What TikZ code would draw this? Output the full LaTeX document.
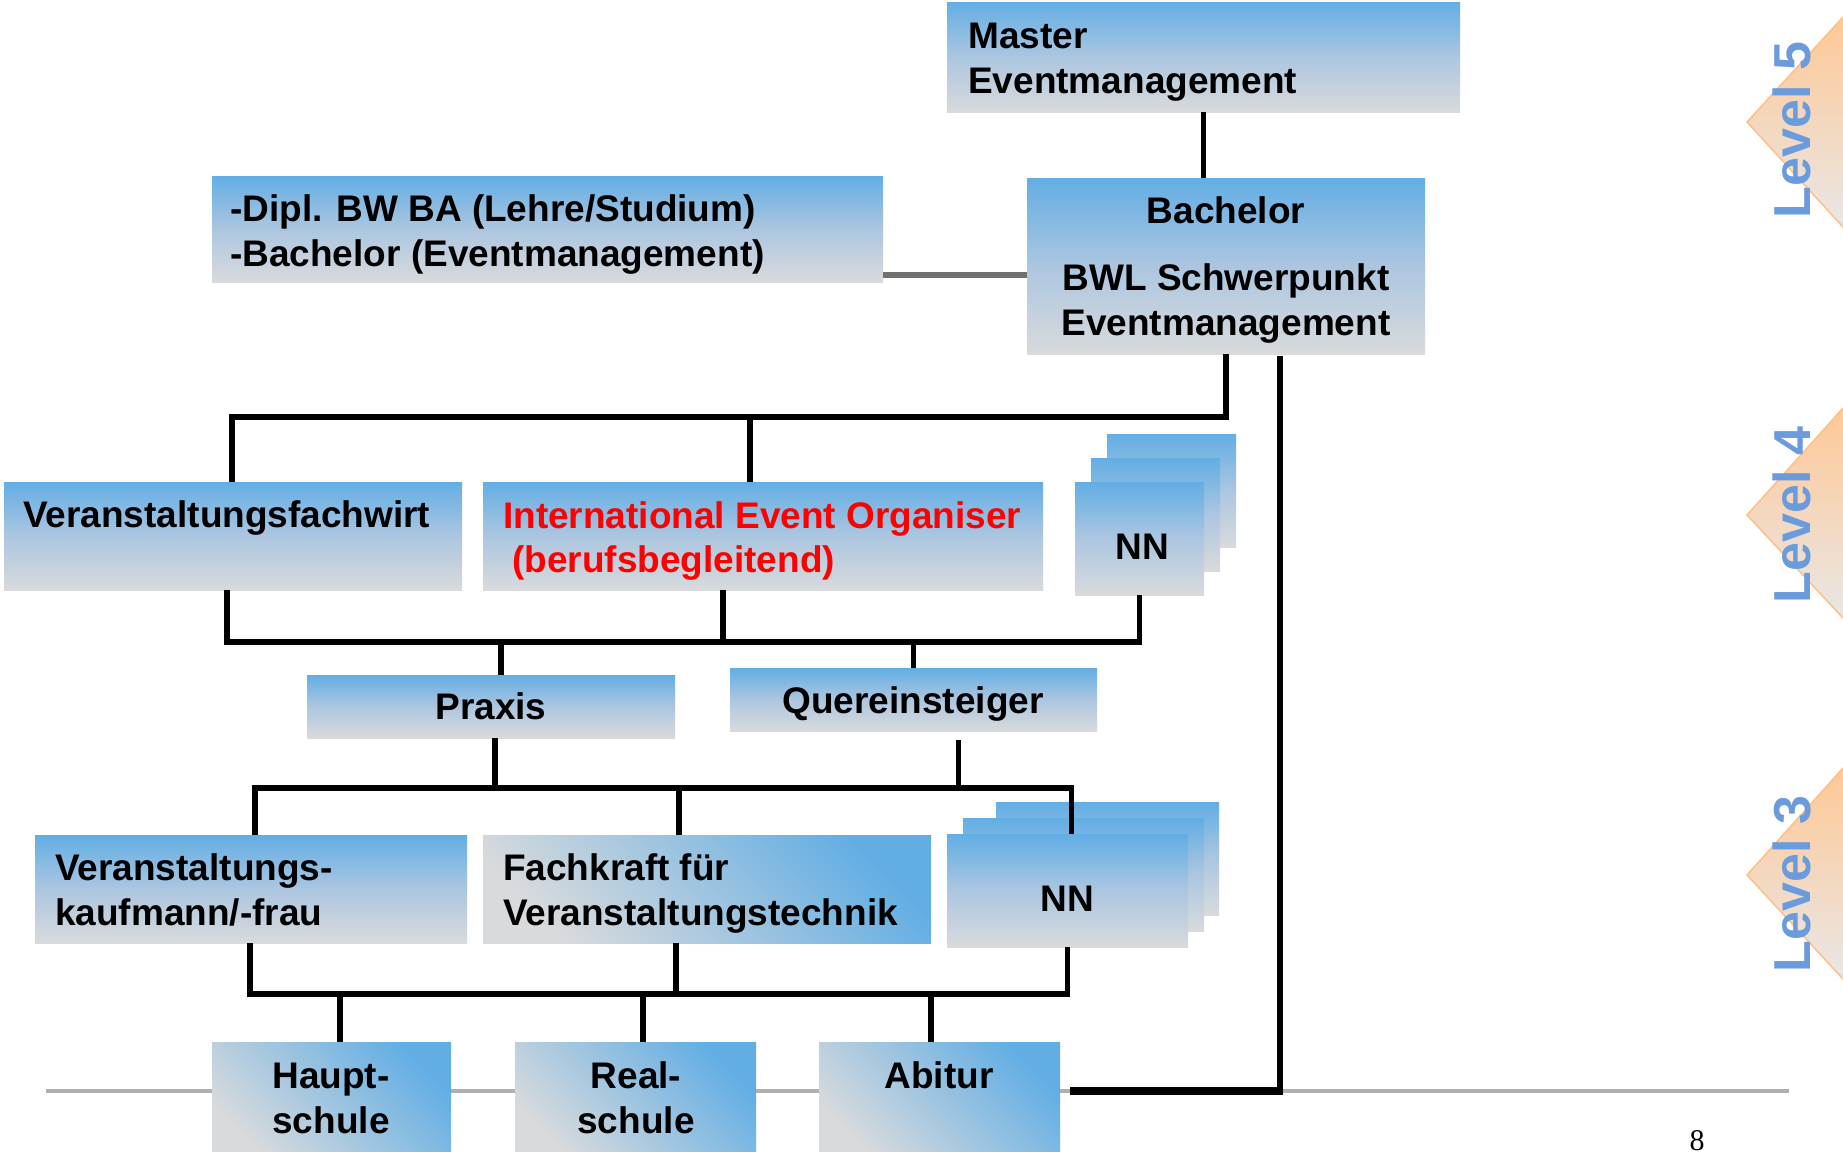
\documentclass[tikz,border=0pt]{standalone}
\usepackage{fontspec}
\setmainfont{Liberation Sans}
\newfontfamily\pagefont{Liberation Serif}
\definecolor{boxblue}{RGB}{98,174,228}
\definecolor{boxgray}{RGB}{217,218,220}
\definecolor{boxmid}{RGB}{172,198,224}
\definecolor{lvlblue}{RGB}{106,155,220}
\definecolor{lvlorange}{RGB}{255,200,150}
\definecolor{lvlgray}{RGB}{232,231,230}
\definecolor{lvledge}{RGB}{255,192,135}
\definecolor{conngray}{RGB}{112,112,112}
\definecolor{basegray}{RGB}{176,176,176}
\definecolor{ieored}{RGB}{255,0,0}
\begin{document}
\begin{tikzpicture}[x=1pt,y=-1pt,
  vbox/.style={anchor=north west, inner sep=0pt, outer sep=0pt, draw=none,
    top color=boxblue, bottom color=boxgray, middle color=boxmid},
  dbox/.style={anchor=north west, inner sep=0pt, outer sep=0pt, draw=none,
    top color=boxblue, bottom color=boxgray, shading angle=-45},
  txtl/.style={font=\fontsize{37}{45}\bfseries\selectfont, inner sep=0pt, anchor=base west},
  txtc/.style={font=\fontsize{37}{45}\bfseries\selectfont, inner sep=0pt, anchor=base},
  conn/.style={line width=5.5pt, black},
  lvltxt/.style={font=\fontsize{52}{60}\bfseries\selectfont, text=lvlblue, inner sep=0pt, rotate=90, anchor=base},
  lvltri/.style={top color=lvlorange, bottom color=lvlgray},
  lvledgeline/.style={draw=lvledge, line width=1.5pt}
]
\useasboundingbox (0,0) rectangle (1843,1151);
\fill[white] (0,0) rectangle (1843,1151);

% coordinates
\coordinate (h5) at (0,417);
\coordinate (h4) at (0,642);
\coordinate (h3) at (0,788);
\coordinate (h2) at (0,994);
\coordinate (baseL) at (46,1091);
\coordinate (baseR) at (1789,1091);

% base line
\draw[basegray, line width=4pt] (baseL) -- (baseR);

% level markers
\fill[lvltri] (1747,122) -- (1843,17) -- (1843,227) -- cycle;
\draw[lvledgeline] (1843,17) -- (1747,122) -- (1843,227);
\fill[lvltri] (1747,515) -- (1843,408) -- (1843,618) -- cycle;
\draw[lvledgeline] (1843,408) -- (1747,515) -- (1843,618);
\fill[lvltri] (1747,875) -- (1843,768) -- (1843,979) -- cycle;
\draw[lvledgeline] (1843,768) -- (1747,875) -- (1843,979);
\node[lvltxt] (lv5) at (1810,130) {Level 5};
\node[lvltxt] (lv4) at (1810,515) {Level 4};
\node[lvltxt] (lv3) at (1810,884) {Level 3};

% boxes
\node[vbox, minimum width=513pt, minimum height=110pt] (master) at (947,2) {};
\node[vbox, minimum width=671pt, minimum height=106pt] (dipl) at (212,176) {};
\node[vbox, minimum width=398pt, minimum height=176pt] (bach) at (1027,178) {};
\node[vbox, minimum width=458pt, minimum height=108pt] (vfw) at (4,482) {};
\node[vbox, minimum width=560pt, minimum height=108pt] (ieo) at (483,482) {};
\node[vbox, minimum width=129pt, minimum height=113pt] (nnAc) at (1107,434) {};
\node[vbox, minimum width=129pt, minimum height=113pt] (nnAb) at (1091,458) {};
\node[vbox, minimum width=129pt, minimum height=113pt] (nnA) at (1075,482) {};
\node[vbox, minimum width=368pt, minimum height=63pt] (praxis) at (307,675) {};
\node[vbox, minimum width=367pt, minimum height=63pt] (quer) at (730,668) {};
\node[vbox, minimum width=432pt, minimum height=108pt] (vk) at (35,835) {};
\node[dbox, minimum width=448pt, minimum height=108pt] (fk) at (483,835) {};
\node[vbox, minimum width=223pt, minimum height=113pt] (nnBc) at (996,802) {};
\node[vbox, minimum width=241pt, minimum height=113pt] (nnBb) at (963,818) {};
\node[vbox, minimum width=241pt, minimum height=113pt] (nnB) at (947,834) {};
\node[dbox, minimum width=239pt, minimum height=115pt] (haupt) at (212,1042) {};
\node[dbox, minimum width=241pt, minimum height=115pt] (real) at (515,1042) {};
\node[dbox, minimum width=241pt, minimum height=115pt] (abi) at (819,1042) {};

% texts
\node[txtl] (tmaster1) at (968,48) {Master};
\node[txtl] (tmaster2) at (968,93) {Eventmanagement};
\node[txtl] (tdipl1) at (230,221) {-Dipl. BW BA (Lehre/Studium)};
\node[txtl] (tdipl2) at (230,266) {-Bachelor (Eventmanagement)};
\node[txtc] (tbach1) at (1226,223) {Bachelor};
\node[txtc] (tbach2) at (1226,290) {BWL Schwerpunkt};
\node[txtc] (tbach3) at (1226,335) {Eventmanagement};
\node[txtl] (tvfw) at (23,527) {Veranstaltungsfachwirt};
\node[txtl, text=ieored] (tieo1) at (503,528) {International Event Organiser};
\node[txtl, text=ieored] (tieo2) at (512,572) {(berufsbegleitend)};
\node[txtc] (tnnA) at (1142,559) {NN};
\node[txtc] (tpraxis) at (491,719) {Praxis};
\node[txtc] (tquer) at (913,713) {Quereinsteiger};
\node[txtl] (tvk1) at (55,880) {Veranstaltungs-};
\node[txtl] (tvk2) at (55,925) {kaufmann/-frau};
\node[txtl] (tfk1) at (503,880) {Fachkraft für};
\node[txtl] (tfk2) at (503,925) {Veranstaltungstechnik};
\node[txtc] (tnnB) at (1067,911) {NN};
\node[txtc] (thaupt1) at (331,1088) {Haupt-};
\node[txtc] (thaupt2) at (331,1133) {schule};
\node[txtc] (treal1) at (636,1088) {Real-};
\node[txtc] (treal2) at (636,1133) {schule};
\node[txtc] (tabi) at (939,1088) {Abitur};
\node[font=\pagefont\fontsize{30}{36}\selectfont, inner sep=0pt, anchor=base] (pgnum) at (1697,1150) {8};

% connectors
\draw[conn] (master.south) -- (master.south |- bach.north);
\draw[conngray, line width=6pt] ([yshift=-45.5pt]dipl.east) -- ([yshift=-45.5pt]dipl.east -| bach.west);
\draw[conn] (bach.south) -- (bach.south |- h5) -| ([xshift=-1pt]vfw.north);
\draw[conn] ([xshift=-13pt]ieo.north) -- ([xshift=-13pt]ieo.north |- h5);
\draw[conn] ([xshift=-6pt]vfw.south) |- (nnA.south |- h4) -- (nnA.south);
\draw[conn] ([xshift=-40pt]ieo.south) -- ([xshift=-40pt]ieo.south |- h4);
\draw[conn] ([xshift=10pt]praxis.north) -- ([xshift=10pt]praxis.north |- h4);
\draw[conn] (quer.north) -- (quer.north |- h4);
\draw[conn] ([xshift=4pt]praxis.south) -- ([xshift=4pt]praxis.south |- h3);
\draw[conn] ([xshift=45pt,yshift=-9pt]quer.south) -- ([xshift=45pt]quer.south |- h3);
\draw[conn] ([xshift=4pt]vk.north) |- ([xshift=4pt]nnB.north |- h3) -- ([xshift=4pt]nnB.north);
\draw[conn] ([xshift=-28pt]fk.north) -- ([xshift=-28pt]fk.north |- h3);
\draw[conn] ([xshift=-1pt]vk.south) |- (nnB.south |- h2) -- (nnB.south);
\draw[conn] ([xshift=-31pt]fk.south) -- ([xshift=-31pt]fk.south |- h2);
\draw[conn] ([xshift=8.5pt]haupt.north) -- ([xshift=8.5pt]haupt.north |- h2);
\draw[conn] ([xshift=7.5pt]real.north) -- ([xshift=7.5pt]real.north |- h2);
\draw[conn] ([xshift=-8.5pt]abi.north) -- ([xshift=-8.5pt]abi.north |- h2);
\draw[conn] ([xshift=54pt,yshift=-2pt]bach.south) -- ([xshift=54pt]bach.south |- baseL);
\draw[black, line width=8pt] ([xshift=57pt]bach.south |- baseL) -- ([xshift=10pt]abi.east |- baseL);
\end{tikzpicture}
\end{document}
